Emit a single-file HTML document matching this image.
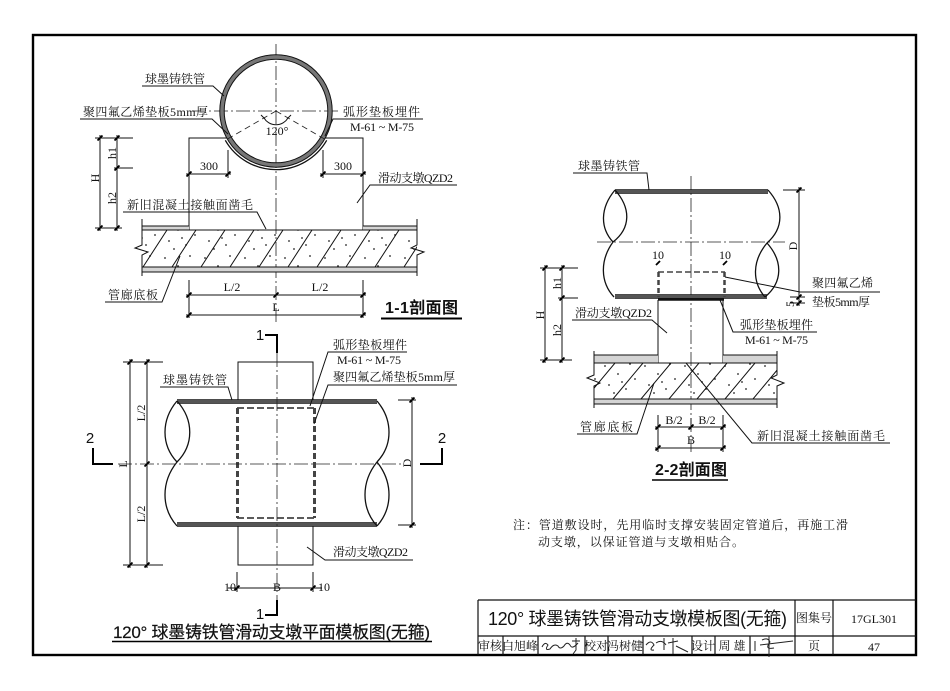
<!DOCTYPE html>
<html><head><meta charset="utf-8"><style>
html,body{margin:0;padding:0;background:#fff;}
svg{display:block;}
.ln{stroke:#111;stroke-width:1;fill:none;}
.th{stroke:#111;stroke-width:1.3;fill:none;}
.cl{stroke:#222;stroke-width:0.8;fill:none;stroke-dasharray:14 3 2 3;}
.tk{stroke:#000;stroke-width:1.8;fill:none;}
.pb{stroke:#555;stroke-width:3.6;fill:none;}
.lab{font-family:"Liberation Serif","Noto Serif CJK SC",serif;font-size:12px;fill:#111;}
.num{font-family:"Liberation Serif",serif;font-size:12px;fill:#111;}
.ttl{font-family:"Liberation Sans","Noto Sans CJK SC",sans-serif;fill:#111;}
</style></head><body>
<svg width="950" height="691" viewBox="0 0 950 691" xmlns="http://www.w3.org/2000/svg">
<defs>
<pattern id="dots" width="40" height="36" patternUnits="userSpaceOnUse">
<circle cx="5" cy="6" r="0.9" fill="#222"/><circle cx="18" cy="14" r="0.9" fill="#222"/>
<circle cx="30" cy="4" r="0.9" fill="#222"/><circle cx="9" cy="25" r="0.9" fill="#222"/>
<circle cx="26" cy="29" r="0.9" fill="#222"/><circle cx="35" cy="19" r="0.9" fill="#222"/>
<circle cx="14" cy="33" r="0.9" fill="#222"/><circle cx="22" cy="22" r="0.9" fill="#222"/>
</pattern>
<clipPath id="c11"><rect x="142" y="230" width="275" height="37"/></clipPath>
<clipPath id="c22"><rect x="594" y="363" width="183" height="36"/></clipPath>
</defs>

<!-- frame -->
<rect x="33" y="35" width="883" height="620" fill="none" stroke="#000" stroke-width="2.4"/>

<!-- ================= 1-1 SECTION ================= -->
<line class="cl" x1="276" y1="44" x2="276" y2="322"/>
<line class="cl" x1="192" y1="111" x2="338" y2="111"/>
<circle cx="276" cy="111" r="54" stroke="#777" stroke-width="3.8" fill="none"/>
<circle cx="276" cy="111" r="56.2" class="ln" stroke-width="1"/>
<circle cx="276" cy="111" r="51.8" class="ln" stroke-width="1"/>
<path d="M225.3,140.3 A58.5,58.5 0 0 0 326.7,140.3" class="th"/>
<path d="M276,111 L227.5,139 M276,111 L324.5,139" stroke="#222" stroke-width="0.8" stroke-dasharray="6 4" fill="none"/>
<path d="M264,118 A14,14 0 0 0 288,118 M261,115 l4,4 M291,115 l-4,4" class="ln"/>
<text x="277" y="135" class="num" font-size="11" text-anchor="middle">120°</text>
<path d="M189,230 V138 H227 M325,138 H363 V230" class="ln"/>
<rect x="142" y="226" width="47" height="4" fill="#d4d4d4"/>
<rect x="363" y="226" width="54" height="4" fill="#d4d4d4"/>
<rect x="142" y="267" width="275" height="5" fill="#d4d4d4"/>
<rect x="142" y="230" width="275" height="37" fill="url(#dots)"/>
<path d="M142,226 H189 M363,226 H417 M142,230 H417 M142,267 H417 M142,272 H417" class="ln"/>
<path d="M142,219 V245 L135,248 L148,252 L142,255 V276 M417,219 V245 L411,248 L424,252 L417,255 V276" class="ln"/>
<g clip-path="url(#c11)" class="ln">
<path d="M114,267 L138,230 M143,267 L167,230 M172,267 L196,230 M201,267 L225,230 M230,267 L254,230 M259,267 L283,230 M288,267 L312,230 M317,267 L341,230 M346,267 L370,230 M375,267 L399,230 M404,267 L428,230"/>
</g>
<path d="M95,138 H133 M114,168 H133 M95,228 H122 M100,135 V231 M117,135 V231" class="ln"/>
<text transform="translate(99,178) rotate(-90)" class="num" text-anchor="middle">H</text>
<text transform="translate(116,153) rotate(-90)" class="num" text-anchor="middle">h1</text>
<text transform="translate(116,198) rotate(-90)" class="num" text-anchor="middle">h2</text>
<path d="M228,150 V178 M323,150 V178 M186,174 H231 M320,174 H366" class="ln"/>
<text x="209" y="170" class="num" text-anchor="middle">300</text>
<text x="343" y="170" class="num" text-anchor="middle">300</text>
<path d="M189,280 V318 M363,280 V318 M186,295 H366 M186,315 H366" class="ln"/>
<text x="232" y="291" class="num" text-anchor="middle">L/2</text>
<text x="320" y="291" class="num" text-anchor="middle">L/2</text>
<text x="276" y="311" class="num" text-anchor="middle">L</text>
<path class="tk" d="M97.5,140.5 l5,-5 M97.5,230.5 l5,-5 M114.5,140.5 l5,-5 M114.5,170.5 l5,-5 M114.5,230.5 l5,-5 M186.5,176.5 l5,-5 M225.5,176.5 l5,-5 M320.5,176.5 l5,-5 M360.5,176.5 l5,-5 M186.5,297.5 l5,-5 M273.5,297.5 l5,-5 M360.5,297.5 l5,-5 M186.5,317.5 l5,-5 M360.5,317.5 l5,-5"/>
<text x="145" y="83" class="lab" textLength="60">球墨铸铁管</text>
<path d="M142,86 H213 L224,96" class="ln"/>
<text x="83" y="116" class="lab" textLength="125">聚四氟乙烯垫板5mm厚</text>
<path d="M80,119 H212 L228,134" class="ln"/>
<text x="343" y="116" class="lab" textLength="77">弧形垫板埋件</text>
<path d="M423,119 H333 L325,136" class="ln"/>
<text x="350" y="131" class="num" font-size="11" textLength="64">M-61 ~ M-75</text>
<text x="378" y="182" class="lab" textLength="75">滑动支墩QZD2</text>
<path d="M457,185 H370 L357,203" class="ln"/>
<text x="127" y="209" class="lab" textLength="126">新旧混凝土接触面凿毛</text>
<path d="M123,212 H257 L266,229" class="ln"/>
<text x="108" y="299" class="lab" textLength="50">管廊底板</text>
<path d="M105,302 H162 L180,256" class="ln"/>
<text x="385" y="313" class="ttl" font-size="16" font-weight="bold" textLength="73">1-1剖面图</text>
<line x1="381" y1="318.5" x2="462" y2="318.5" stroke="#000" stroke-width="2"/>

<!-- ================= PLAN VIEW ================= -->
<path d="M265,335 H277 V353 M277,600 V615 H265" stroke="#000" stroke-width="2" fill="none"/>
<text x="260" y="340" class="ttl" font-size="15" text-anchor="middle">1</text>
<text x="260" y="619" class="ttl" font-size="15" text-anchor="middle">1</text>
<path d="M93,448 V464 H113 M442,448 V464 H420" stroke="#000" stroke-width="2" fill="none"/>
<text x="90" y="443" class="ttl" font-size="15" text-anchor="middle">2</text>
<text x="442" y="443" class="ttl" font-size="15" text-anchor="middle">2</text>
<path d="M238,400 V362 H313 V400 M238,526 V565 H313 V526" class="ln"/>
<path d="M177,401.5 H377 M177,524.5 H377" class="pb"/>
<path d="M177,399.6 H377 M177,403.4 H377 M177,522.6 H377 M177,526.4 H377" stroke="#111" stroke-width="0.7" fill="none"/>
<path d="M177,401 C161,420 161,445 177,462 M177,401 C194,420 194,445 177,462 M177,462 C161,482 161,508 177,526" class="th"/>
<path d="M377,401 C393,420 393,445 377,462 M377,462 C361,482 361,508 377,526 M377,462 C393,482 393,508 377,526" class="th"/>
<path d="M237.5,408 V518 M314.5,408 V518" stroke="#444" stroke-width="3" stroke-dasharray="6 3" fill="none"/>
<path d="M237,408 H315 M237,518 H315" stroke="#444" stroke-width="1.8" stroke-dasharray="7 3" fill="none"/>
<line class="cl" x1="118" y1="464" x2="402" y2="464"/>
<line class="cl" x1="277" y1="353" x2="277" y2="600"/>
<path d="M123,362 H163 M123,565 H163 M130,359 V568 M147,359 V568" class="ln"/>
<text transform="translate(145,413) rotate(-90)" class="num" text-anchor="middle">L/2</text>
<text transform="translate(127,464) rotate(-90)" class="num" text-anchor="middle">L</text>
<text transform="translate(145,514) rotate(-90)" class="num" text-anchor="middle">L/2</text>
<path d="M398,400 H416 M398,525 H416 M412,397 V528" class="ln"/>
<text transform="translate(411,463) rotate(-90)" class="num" text-anchor="middle">D</text>
<path d="M237,572 V592 M313,572 V592 M228,588 H322" class="ln"/>
<text x="224" y="591" class="num">10</text>
<text x="277" y="591" class="num" text-anchor="middle">B</text>
<text x="318" y="591" class="num">10</text>
<path class="tk" d="M127.5,364.5 l5,-5 M127.5,567.5 l5,-5 M144.5,364.5 l5,-5 M144.5,466.5 l5,-5 M144.5,567.5 l5,-5 M409.5,402.5 l5,-5 M409.5,527.5 l5,-5 M234.5,590.5 l5,-5 M310.5,590.5 l5,-5"/>
<text x="333" y="349" class="lab" textLength="74">弧形垫板埋件</text>
<path d="M407,352 H328 L310,406" class="ln"/>
<text x="337" y="364" class="num" font-size="11" textLength="64">M-61 ~ M-75</text>
<text x="333" y="381" class="lab" textLength="122">聚四氟乙烯垫板5mm厚</text>
<path d="M457,385 H328 L314,424" class="ln"/>
<text x="163" y="384" class="lab" textLength="64">球墨铸铁管</text>
<path d="M160,387 H228 L232,400" class="ln"/>
<text x="333" y="556" class="lab" textLength="75">滑动支墩QZD2</text>
<path d="M413,560 H325 L307,547" class="ln"/>
<text x="113" y="638" class="ttl" font-size="17" textLength="317" stroke="#111" stroke-width="0.2">120° 球墨铸铁管滑动支墩平面模板图(无箍)</text>
<line x1="112" y1="641.5" x2="432" y2="641.5" stroke="#000" stroke-width="1.5"/>

<!-- ================= 2-2 SECTION ================= -->
<line class="cl" x1="597" y1="242" x2="785" y2="242"/>
<line class="cl" x1="691" y1="176" x2="691" y2="452"/>
<path d="M615,191.5 H768 M615,296.5 H767" class="pb"/>
<path d="M615,189.6 H768 M615,193.4 H768 M615,294.6 H767 M615,298.4 H767" stroke="#111" stroke-width="0.7" fill="none"/>
<path d="M615,190 C600,208 600,228 613,242 M615,190 C631,208 631,228 613,242 M613,242 C600,260 600,282 614,297" class="th"/>
<path d="M768,190 C784,208 784,228 767,243 M767,243 C752,261 752,282 765,297 M767,243 C783,261 783,282 765,297" class="th"/>
<path d="M658.5,272 V297 M724.5,272 V297" stroke="#444" stroke-width="2.5" stroke-dasharray="5 3" fill="none"/>
<path d="M658,272 H725" stroke="#444" stroke-width="1.5" stroke-dasharray="6 3" fill="none"/>
<line x1="658" y1="299.5" x2="724" y2="299.5" stroke="#111" stroke-width="2.5"/>
<text x="658" y="259" class="num" text-anchor="middle">10</text>
<text x="725" y="259" class="num" text-anchor="middle">10</text>
<path d="M658,300 V363 M723,300 V363" class="ln"/>
<rect x="594" y="355" width="64" height="8" fill="#d4d4d4"/>
<rect x="723" y="355" width="54" height="8" fill="#d4d4d4"/>
<rect x="594" y="399" width="183" height="5" fill="#d4d4d4"/>
<rect x="594" y="363" width="183" height="36" fill="url(#dots)"/>
<path d="M594,355 H658 M723,355 H777 M594,363 H777 M594,399 H777 M594,404 H777" class="ln"/>
<path d="M594,351 V375 L587,378 L600,383 L594,386 V408 M777,351 V375 L771,378 L784,383 L777,386 V408" class="ln"/>
<g clip-path="url(#c22)" class="ln">
<path d="M557,399 L587,363 M585,399 L615,363 M613,399 L643,363 M641,399 L671,363 M669,399 L699,363 M697,399 L727,363 M725,399 L755,363 M753,399 L783,363 M781,399 L811,363"/>
</g>
<path d="M540,268 H578 M558,298 H578 M540,360 H572 M545,265 V363 M562,265 V363" class="ln"/>
<text transform="translate(544,315) rotate(-90)" class="num" text-anchor="middle">H</text>
<text transform="translate(561,283) rotate(-90)" class="num" text-anchor="middle">h1</text>
<text transform="translate(561,330) rotate(-90)" class="num" text-anchor="middle">h2</text>
<path d="M783,190 H805 M790,297 H805 M790,303 H805 M799,187 V306" class="ln"/>
<text transform="translate(797,246) rotate(-90)" class="num" text-anchor="middle">D</text>
<text transform="translate(794,304) rotate(-90)" class="num" font-size="10" text-anchor="middle">5</text>
<path d="M658,415 V452 M723,415 V452 M691,418 V430 M655,427 H726 M655,448 H726" class="ln"/>
<text x="674" y="424" class="num" text-anchor="middle">B/2</text>
<text x="707" y="424" class="num" text-anchor="middle">B/2</text>
<text x="691" y="444" class="num" text-anchor="middle">B</text>
<path class="tk" d="M542.5,270.5 l5,-5 M542.5,362.5 l5,-5 M559.5,270.5 l5,-5 M559.5,300.5 l5,-5 M559.5,362.5 l5,-5 M796.5,192.5 l5,-5 M796.5,299.5 l5,-5 M796.5,305.5 l5,-5 M655.5,429.5 l5,-5 M688.5,429.5 l5,-5 M720.5,429.5 l5,-5 M655.5,450.5 l5,-5 M720.5,450.5 l5,-5 M656,265 l4,-4 M723,265 l4,-4"/>
<text x="578" y="170" class="lab" textLength="62">球墨铸铁管</text>
<path d="M573,173 H647 L649,190" class="ln"/>
<text x="812" y="287" class="lab" textLength="61">聚四氟乙烯</text>
<text x="812" y="306" class="lab" textLength="58">垫板5mm厚</text>
<path d="M880,292 H800 L725,277" class="ln"/>
<text x="575" y="317" class="lab" textLength="77">滑动支墩QZD2</text>
<path d="M572,320 H652 L667,333" class="ln"/>
<text x="740" y="329" class="lab" textLength="73">弧形垫板埋件</text>
<path d="M817,332 H733 L720,300" class="ln"/>
<text x="745" y="344" class="num" font-size="11" textLength="63">M-61 ~ M-75</text>
<text x="580" y="431" class="lab" textLength="53">管廊底板</text>
<path d="M577,434 H637 L654,383" class="ln"/>
<text x="757" y="440" class="lab" textLength="128">新旧混凝土接触面凿毛</text>
<path d="M890,443 H752 L686,363" class="ln"/>
<text x="655" y="475" class="ttl" font-size="16" font-weight="bold" textLength="72">2-2剖面图</text>
<line x1="652" y1="480" x2="728" y2="480" stroke="#000" stroke-width="1.5"/>

<!-- note -->
<text x="513" y="529" class="lab" textLength="335">注：管道敷设时，先用临时支撑安装固定管道后，再施工滑</text>
<text x="538" y="546" class="lab" textLength="206">动支墩，以保证管道与支墩相贴合。</text>

<!-- ================= TITLE BLOCK ================= -->
<path d="M478,600 H916 M478,600 V655 M478,636 H916 M795,600 V655 M833,600 V655 M503,636 V655 M538,636 V655 M585,636 V655 M608,636 V655 M643,636 V655 M692,636 V655 M715,636 V655 M750,636 V655" stroke="#111" stroke-width="1.2" fill="none"/>
<text x="488" y="625" class="ttl" font-size="18" textLength="299">120° 球墨铸铁管滑动支墩模板图(无箍)</text>
<text x="814" y="622" class="lab" font-size="11" text-anchor="middle">图集号</text>
<text x="874" y="623" class="num" font-size="13" text-anchor="middle">17GL301</text>
<text x="814" y="650" class="lab" font-size="11" text-anchor="middle">页</text>
<text x="874" y="651" class="num" font-size="13" text-anchor="middle">47</text>
<text x="490" y="650" class="lab" font-size="11" text-anchor="middle">审核</text>
<text x="520" y="650" class="lab" font-size="11" text-anchor="middle">白旭峰</text>
<text x="596" y="650" class="lab" font-size="11" text-anchor="middle">校对</text>
<text x="625" y="650" class="lab" font-size="11" text-anchor="middle">冯树健</text>
<text x="703" y="650" class="lab" font-size="11" text-anchor="middle">设计</text>
<text x="732" y="650" class="lab" font-size="11" text-anchor="middle">周 雄</text>
<path d="M542,647 q3,-6 6,-2 q-4,6 2,4 q4,-6 8,-3 q2,4 6,0 q3,-5 6,-1 q2,5 8,-2 M572,641 l8,0 M576,638 v12 l-3,4" stroke="#222" stroke-width="1" fill="none"/>
<path d="M646,645 q5,-6 8,0 q-6,6 0,5 M656,643 q6,-4 10,2 M664,638 v12 M668,643 l10,-2 M673,638 v16 M676,646 l12,6" stroke="#222" stroke-width="1" fill="none"/>
<path d="M755,641 v10 M762,640 q6,-3 8,2 q-6,8 4,6 M769,636 v21 M760,645 l33,-4" stroke="#222" stroke-width="1" fill="none"/>
</svg>
</body></html>
